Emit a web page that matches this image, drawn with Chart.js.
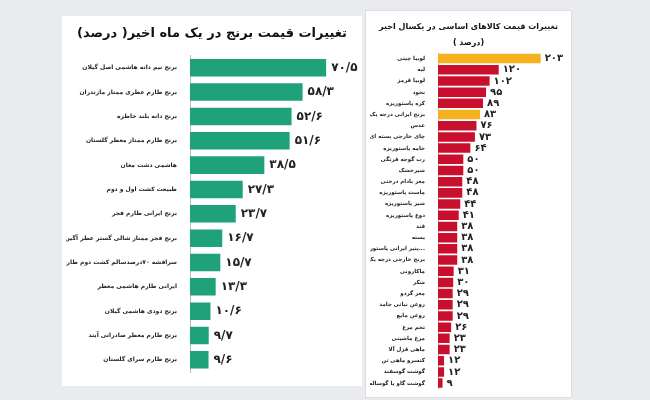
<!DOCTYPE html>
<html><head><meta charset="utf-8">
<script src="https://cdn.jsdelivr.net/npm/chart.js@4/dist/chart.umd.min.js"></script>
<style>
body{margin:0;width:650px;height:400px;background:#e9ebee;position:relative;overflow:hidden;font-family:"DejaVu Sans";}
.p{position:absolute;background:#fff;}
</style></head><body>
<div class="p" style="left:62px;top:16px;width:300px;height:370px"><canvas id="c1"></canvas></div>
<div class="p" style="left:365px;top:10px;width:205px;height:386px;border:1px solid #ddd"><canvas id="c2"></canvas></div>
<script>
const riceLabels=["برنج نیم دانه هاشمی اصل گیلان","برنج طارم عطری ممتاز مازندران","برنج دانه بلند خاطره","برنج طارم ممتاز معطر گلستان","هاشمی دشت مغان","طبیعت کشت اول و دوم","برنج ایرانی طارم فجر","برنج فجر ممتاز شالی گستر عطر آگین","سرافشه ۷۰درصدسالم کشت دوم طارم محلی","ایرانی طارم هاشمی معطر","برنج دودی هاشمی گیلان","برنج طارم معطر صادراتی آیند","برنج طارم سرای گلستان"];
const riceValues=[70.5,58.3,52.6,51.6,38.5,27.3,23.7,16.7,15.7,13.3,10.6,9.7,9.6];
const goodsLabels=["لوبیا چیتی","لپه","لوبیا قرمز","نخود","کره پاستوریزه","برنج ایرانی درجه یک","عدس","چای خارجی بسته ای","خامه پاستوریزه","رب گوجه فرنگی","شیرخشک","مغز بادام درختی","ماست پاستوریزه","شیر پاستوریزه","دوغ پاستوریزه","قند","پسته","پنیر ایرانی پاستور...","برنج خارجی درجه یک","ماکارونی","شکر","مغز گردو","روغن نباتی جامد","روغن مایع","تخم مرغ","مرغ ماشینی","ماهی قزل آلا","کنسرو ماهی تن","گوشت گوسفند","گوشت گاو یا گوساله"];
const goodsValues=[203,120,102,95,89,83,76,73,64,50,50,48,48,44,41,38,38,38,38,31,30,29,29,29,26,23,23,12,12,9];
const goodsHighlight=["لوبیا چیتی","برنج ایرانی درجه یک"];

const fa=v=>String(v).replace('.', '/').replace(/\d/g,d=>'۰۱۲۳۴۵۶۷۸۹'[d]);
const valPlugin={id:'vals',afterDatasetsDraw(ch,a,o){const c=ch.ctx;const m=ch.getDatasetMeta(0);c.save();c.font=o.font;c.fillStyle='#222';c.textBaseline='middle';c.textAlign='left';
 m.data.forEach((e,i)=>c.fillText(fa(ch.data.datasets[0].data[i]),e.x+o.gap,e.y));c.restore();}};
Chart.register(valPlugin);
function make(id,labels,data,colors,opt){
 return new Chart(document.getElementById(id),{type:'bar',data:{labels,datasets:[{data,backgroundColor:colors,barPercentage:opt.bp,categoryPercentage:1}]},
 options:{indexAxis:'y',responsive:true,maintainAspectRatio:false,animation:false,
 layout:{padding:opt.pad},
 plugins:{legend:{display:false},tooltip:{enabled:false},vals:{font:opt.vf,gap:opt.gap},
  title:{display:true,text:opt.title,font:opt.tf,color:'#111',padding:opt.tp}},
 scales:{x:{display:false,min:0,max:opt.max},y:{afterFit:s=>{s.width=opt.aw;},grid:{display:false},border:{color:'#bbb'},ticks:{font:opt.lf,color:'#222',padding:5,autoSkip:false}}}}});
}
make('c1',riceLabels,riceValues,'#1fa27a',{aw:124,bp:0.72,max:87,pad:{left:4,right:4,top:6,bottom:14},
 title:'تغییرات قیمت برنج در یک ماه اخیر( درصد)',tf:{family:'DejaVu Sans',size:13,weight:'bold'},tp:{top:4,bottom:14},
 lf:{family:'DejaVu Sans',size:6,weight:'bold'},vf:'bold 12px "DejaVu Sans"',gap:5});
make('c2',goodsLabels,goodsValues,goodsLabels.map(l=>goodsHighlight.includes(l)?'#f5b21d':'#c8102e'),{aw:68,bp:0.85,max:255,pad:{left:4,right:4,top:0,bottom:6},
 title:['تغییرات قیمت کالاهای اساسی در یکسال اخیر','( درصد)'],tf:{family:'DejaVu Sans',size:8,weight:'bold',lineHeight:2},tp:{top:8,bottom:2},
 lf:{family:'DejaVu Sans',size:5.5,weight:'bold'},vf:'bold 10px "DejaVu Sans"',gap:4});
</script></body></html>
